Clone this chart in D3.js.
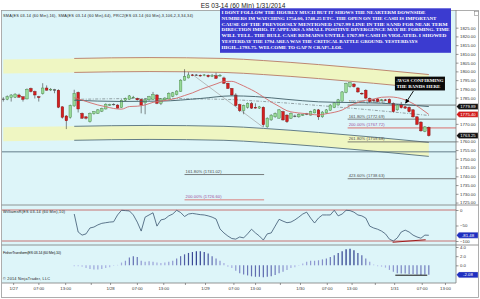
<!DOCTYPE html>
<html>
<head>
<meta charset="utf-8">
<script src="https://cdn.jsdelivr.net/npm/d3@7"></script>
<style>
  body { margin: 0; background: #fff; }
  svg text { font-family: "Liberation Sans", Arial, sans-serif; }
</style>
</head>
<body>
<div id="chart"></div>
<script>
// ---------------- data (60 min bars, ES 03-14) ----------------
const opens  = [1784.25,1784.0,1785.0,1785.25,1786.5,1785.5,1784.25,1790.25,1788.5,1785.5,1787.25,1790.5,1789.5,1789.5,1789.25,1779.75,1774.5,1773.75,1780.25,1788.0,
                1776.0,1774.0,1771.25,1775.75,1776.0,1777.25,1778.5,1780.75,1781.25,1780.75,1779.25,1783.5,1784.0,1785.0,1784.5,1784.0,1782.0,1783.75,1784.0,1786.5,
                1781.75,1783.75,1784.25,1785.75,1786.75,1788.5,1795.0,1796.25,1798.0,1798.0,1797.75,1797.75,1797.75,1797.25,1797.5,1797.5,1796.25,1793.25,1790.25,1786.5,
                1781.0,1777.5,1779.5,1781.5,1779.5,1779.0,1779.5,1768.25,1772.25,1774.0,1773.25,1777.0,1775.0,1773.25,1774.5,1774.0,1775.0,1775.75,1775.0,1776.25,
                1778.0,1774.0,1776.25,1777.75,1779.25,1780.75,1783.0,1788.0,1791.25,1792.75,1790.5,1787.5,1789.25,1784.5,1783.75,1784.25,1783.5,1783.75,1784.0,1781.75,
                1778.0,1781.0,1779.75,1779.5,1778.0,1774.0,1771.0,1765.75,1768.0];
const highs  = [1785.25,1786.25,1787.0,1787.5,1787.25,1785.75,1790.25,1790.75,1789.0,1786.0,1793.25,1792.0,1790.5,1790.0,1789.75,1780.0,1775.0,1781.0,1789.5,1788.5,
                1776.5,1774.5,1776.5,1777.25,1778.5,1779.25,1781.75,1781.5,1781.75,1781.25,1784.0,1785.0,1786.5,1786.0,1785.0,1784.5,1784.5,1786.0,1788.25,1787.0,
                1784.75,1785.25,1788.0,1788.25,1789.25,1795.5,1801.25,1799.5,1798.5,1798.5,1798.25,1798.5,1798.25,1798.5,1799.25,1798.5,1797.0,1793.5,1790.5,1787.5,
                1781.5,1781.0,1782.25,1782.5,1781.75,1780.25,1780.0,1773.75,1775.5,1776.5,1778.5,1777.5,1775.5,1776.5,1775.25,1776.0,1775.75,1776.25,1777.5,1778.5,
                1778.5,1777.25,1778.5,1781.25,1782.5,1784.25,1788.75,1793.5,1793.75,1793.25,1791.0,1788.0,1789.75,1785.0,1784.25,1784.75,1784.25,1784.25,1784.5,1782.25,
                1781.25,1782.5,1780.25,1780.0,1778.5,1774.5,1771.5,1768.75,1768.5];
const lows   = [1782.75,1783.5,1782.75,1784.75,1785.0,1782.75,1784.0,1788.0,1784.5,1782.75,1786.75,1789.0,1788.75,1787.5,1779.0,1773.0,1767.0,1773.0,1779.75,1776.5,
                1772.75,1772.5,1770.75,1775.25,1775.75,1776.75,1778.25,1780.25,1780.5,1778.75,1779.0,1783.0,1783.75,1784.5,1783.25,1776.0,1775.5,1783.25,1783.75,1781.25,
                1780.75,1783.25,1784.0,1785.25,1786.25,1788.25,1794.75,1796.0,1797.25,1797.5,1797.0,1797.25,1796.5,1796.75,1795.75,1797.0,1792.75,1790.0,1786.0,1780.0,
                1776.75,1775.5,1778.75,1778.5,1778.75,1778.5,1768.25,1767.75,1771.75,1773.5,1773.0,1771.75,1770.5,1772.75,1773.75,1773.5,1774.5,1775.0,1774.75,1776.0,
                1772.25,1773.5,1775.75,1777.5,1779.0,1780.5,1782.75,1787.5,1790.75,1790.75,1787.75,1786.5,1784.25,1782.25,1783.0,1782.25,1783.0,1783.0,1781.5,1776.5,
                1777.5,1778.75,1778.5,1776.5,1773.5,1769.25,1765.5,1765.25,1762.75];
const closes = [1784.25,1785.5,1786.5,1787.0,1785.25,1784.0,1789.75,1788.5,1786.5,1785.0,1790.5,1789.25,1789.75,1789.5,1779.5,1773.75,1771.75,1780.5,1787.5,1778.5,
                1773.25,1773.25,1776.0,1777.0,1778.0,1778.75,1781.25,1781.0,1781.25,1779.0,1783.5,1784.5,1786.0,1785.25,1783.75,1780.75,1784.0,1785.5,1786.75,1781.75,
                1784.25,1784.75,1787.5,1787.75,1788.75,1795.0,1797.0,1798.0,1797.75,1798.0,1797.5,1798.0,1797.0,1797.5,1796.0,1797.75,1793.25,1790.25,1786.5,1780.5,
                1777.5,1780.5,1781.75,1779.0,1779.0,1779.75,1769.5,1773.25,1775.0,1776.0,1778.0,1772.25,1771.25,1776.0,1774.5,1775.5,1775.25,1775.75,1777.0,1778.0,
                1774.0,1776.75,1778.0,1780.75,1782.0,1783.75,1788.25,1793.0,1793.5,1791.25,1788.25,1787.25,1784.75,1782.75,1783.5,1782.75,1783.75,1783.5,1782.0,1777.0,
                1780.75,1779.25,1779.0,1777.0,1774.0,1769.75,1766.0,1768.25,1763.25];

// SMA(16) and SMA(64): [bar, price]
const sma16 = [[18,1784.9],[20,1783.6],[22,1782.1],[24,1780.8],[26,1779.8],[28,1778.8],[30,1778.4],[32,1779.9],[34,1780.1],[36,1780.8],
               [38,1782.3],[40,1783.0],[42,1783.7],[44,1784.7],[46,1786.2],[48,1787.7],[50,1789.6],[52,1791.2],[54,1792.8],[56,1794.2],
               [58,1794.3],[60,1792.7],[62,1790.6],[64,1788.3],[66,1785.4],[68,1782.5],[70,1780.0],[72,1777.5],[74,1776.5],[76,1776.0],
               [78,1775.5],[80,1775.1],[82,1775.8],[84,1776.6],[86,1777.9],[88,1780.4],[90,1782.2],[92,1783.5],[94,1784.2],[96,1785.2],
               [98,1785.4],[100,1785.0],[102,1783.7],[104,1781.6],[106,1778.7],[108,1775.4]];
const sma64 = [[18,1783.5],[30,1782.8],[40,1783.0],[50,1784.5],[58,1786.0],[64,1785.6],[72,1784.0],[80,1782.6],[88,1782.2],
               [96,1781.8],[102,1781.0],[108,1779.89]];

// regression channel (PRC2) midline and band offsets, in points
const chIdx   = [0, 18, 37, 56, 66, 80, 94, 108];
const chMid   = [1783.4, 1784.0, 1784.5, 1784.0, 1782.8, 1780.5, 1777.8, 1774.8];
const chInner = 15.4, chOuter = 23.4;
const chLineStart = 18;

// Williams %R(10) and Fisher Transform(10), from bar 18 on
const indStart = 18;
const willR = [-13,-71,-81,-77,-58,-55,-48,-43,-41,-39,-38,-16,-1,-2,-3,-16,-39,-68,-23,-16,-9,-52,-32,-29,-19,-13,-1,-8,-21,-13,
               -11,-13,-15,-16,-19,-23,-29,-61,-74,-84,-92,-94,-87,-90,-77,-62,-74,-84,-97,-77,-74,-52,-30,-36,-41,-39,-32,-23,-13,-7,
               -26,-42,-26,-16,-16,-16,-1,-19,-13,-1,-2,-7,-16,-19,-26,-52,-58,-62,-68,-77,-94,-100,-90,-71,-65,-71,-81,-87,-91,-81,-81.48];
const fisher = [-0.2,-0.2,-0.3,-0.6,-0.8,-0.9,-0.9,-0.8,-0.6,-0.4,-0.1,0.1,0.6,1.0,1.7,2.0,1.8,1.0,0.8,0.9,0.8,0.6,0.5,0.6,0.8,1.0,1.5,2.0,2.4,2.7,
                2.9,3.1,3.1,2.9,2.6,2.0,1.5,1.0,0.5,-0.3,-0.6,-1.2,-1.7,-2.0,-2.2,-2.4,-2.5,-2.5,-2.6,-2.5,-2.4,-2.1,-1.7,-1.4,-1.0,-0.6,-0.4,-0.1,0.4,0.8,
                1.0,1.0,1.1,1.3,1.5,1.8,2.2,2.7,3.1,3.5,3.6,3.3,2.7,2.2,1.5,0.8,0.2,-0.2,-0.3,-0.5,-1.0,-1.4,-1.7,-1.8,-1.8,-1.9,-1.9,-2.0,-2.1,-2.0,-2.08];

// fibonacci extension levels
const fibRightPct   = ["100.00%", "161.80%", "200.00%", "261.80%", "423.60%"];
const fibRightPrice = [1780.73, 1772.69, 1767.72, 1759.68, 1738.63];
const fibLeftPct    = ["161.80%", "200.00%"];
const fibLeftPrice  = [1741.02, 1726.60];
const fibRightFrom = 87.4, fibLeftFrom = 46, fibLeftTo = 66.2;
const hLine = 1754.00;
const trendLine = [[48, 1798.25], [66, 1768.0]];

// time axis (bar positions)
const axisIdx  = [2.5, 8.9, 15.7, 22.2, 27.1, 33.9, 40.6, 46.1, 51.2, 58.4, 63.9, 70.2, 75.3, 82.1, 88.4, 94.3, 99.2, 106.2, 112.1];
const axisText = ["1/27","07:00","13:00","","1/28","07:00","13:00","","1/29","07:00","13:00","","1/30","07:00","13:00","","1/31","07:00","13:00"];
// labels hidden behind the value markers are left out
const priceTicks = d3.range(1725, 1826, 5).filter(v => v !== 1765 && v !== 1775 && v !== 1780);
const wrTicks = [0, -50, -100];
const fishTicks = [4, 2, 0];

const noteLines = [
  "I DONT FOLLOW THE HOURLY MUCH BUT IT SHOWS THE NEARTERM DOWNSIDE",
  "NUMBERS IM WATCHING 1754.00, 1748.25 ETC. THE OPEN ON THE CASH IS IMPORTANT",
  "CAUSE OF THE PREVIOUSLY MENTIONED 1767.99 LINE IN THE SAND FOR NEAR TERM",
  "DIRECTION IMHO. IT APPEARS A SMALL POSITIVE DIVERGENCE MAY BE FORMING. TIME",
  "WILL TELL. THE BULL CASE REMAINS UNTILL 1767.99  CASH IS VIOLATED.  I SHOWED",
  "YESTERDAY THE 1794 AREA WAS THE CRITICAL BATTLE GROUND. YESTERDAYS",
  "HIGH...1793.75. WELCOME TO  GAP N CRAP!..LOL"
];

// ---------------- layout ----------------
const W = 480, H = 299;
const plotL = 2, plotR = 456, plotTop = 10, priceBot = 205, wrBot = 245, fishBot = 283;

const svg = d3.select("#chart").append("svg")
    .attr("width", W).attr("height", H);

const xS = d3.scaleLinear().domain([-0.33, 114.9]).range([plotL, plotR]);
const yP = d3.scaleLinear().domain([1723.6, 1835.1]).range([priceBot, plotTop]);
const yW = d3.scaleLinear().domain([-100, 0]).range([241, 210]);
const yF = d3.scaleLinear().domain([-2, 4]).range([274.5, 247]);

svg.append("rect").attr("width", W).attr("height", H).attr("fill", "#fff");
svg.append("rect").attr("x", plotL).attr("y", plotTop).attr("width", plotR - plotL).attr("height", fishBot - plotTop)
    .attr("fill", "#ddf5f9");

const defs = svg.append("defs");
defs.append("clipPath").attr("id", "pclip")
    .append("rect").attr("x", plotL).attr("y", plotTop).attr("width", plotR - plotL).attr("height", priceBot - plotTop);

const plot = svg.append("g").attr("clip-path", "url(#pclip)");

// channel bands
const ch = chIdx.map((i, k) => ({ i: i, m: chMid[k] }));
const band = (a, b) => d3.area().x(d => xS(d.i)).y0(d => yP(d.m + a)).y1(d => yP(d.m + b)).curve(d3.curveMonotoneX);
plot.append("path").datum(ch).attr("d", band(chInner, chOuter)).attr("fill", "#eff6c2");
plot.append("path").datum(ch).attr("d", band(-chInner, -chOuter)).attr("fill", "#eff6c2");

const chLine = off => d3.line().defined(d => d.i >= chLineStart)
    .x(d => xS(d.i)).y(d => yP(d.m + off)).curve(d3.curveMonotoneX);
[[chOuter, "#b87a66"], [chInner, "#b87a66"], [-chInner, "#55707e"], [-chOuter, "#55707e"]].forEach(([o, c]) => {
    plot.append("path").datum(ch).attr("d", chLine(o)).attr("fill", "none").attr("stroke", c).attr("stroke-width", 0.9);
});
plot.append("path").datum(ch).attr("d", chLine(0)).attr("fill", "none")
    .attr("stroke", "#7d8a8e").attr("stroke-width", 0.8).attr("stroke-dasharray", "3,1.5,1,1.5");

// horizontal line 1754
plot.append("line").attr("x1", plotL).attr("x2", plotR).attr("y1", yP(hLine)).attr("y2", yP(hLine))
    .attr("stroke", "#57707e").attr("stroke-width", 0.9);

// trend line from the high
plot.append("line")
    .attr("x1", xS(trendLine[0][0])).attr("y1", yP(trendLine[0][1]))
    .attr("x2", xS(trendLine[1][0])).attr("y2", yP(trendLine[1][1]))
    .attr("stroke", "#a4a4a4").attr("stroke-width", 0.7);

// fib levels
function fibLevel(pct, price, from, to) {
    const pink = pct === "200.00%";
    plot.append("line").attr("x1", xS(from)).attr("x2", to).attr("y1", yP(price)).attr("y2", yP(price))
        .attr("stroke", pink ? "#dba8a8" : "#5e5e5e").attr("stroke-width", pink ? 1.6 : 0.8);
    plot.append("text").attr("x", xS(from) + 1).attr("y", yP(price) - 1.6)
        .attr("font-size", 4.1).attr("fill", pink ? "#9a4a9a" : "#4a4a4a")
        .attr("textLength", 36).text(`${pct} (${price.toFixed(2)})`);
}
fibRightPct.forEach((p, k) => fibLevel(p, fibRightPrice[k], fibRightFrom, plotR));
fibLeftPct.forEach((p, k) => fibLevel(p, fibLeftPrice[k], fibLeftFrom, xS(fibLeftTo)));

// candles
const bars = closes.map((c, i) => ({ i: i, o: opens[i], h: highs[i], l: lows[i], c: c }));
const gBars = plot.append("g");
gBars.selectAll("line").data(bars).join("line")
    .attr("x1", d => xS(d.i)).attr("x2", d => xS(d.i))
    .attr("y1", d => yP(d.h)).attr("y2", d => yP(d.l))
    .attr("stroke", "#3a3a3a").attr("stroke-width", 0.6);
gBars.selectAll("rect").data(bars).join("rect")
    .attr("x", d => xS(d.i) - 1.3).attr("width", 2.6)
    .attr("y", d => yP(Math.max(d.o, d.c)))
    .attr("height", d => Math.max(0.7, Math.abs(yP(d.o) - yP(d.c))))
    .attr("fill", d => d.c > d.o ? "#97da97" : d.c < d.o ? "#d41e1e" : "#555")
    .attr("stroke", d => d.c > d.o ? "#3f7f3f" : d.c < d.o ? "#7a0e0e" : "#555")
    .attr("stroke-width", 0.4);

// moving averages
const smaLine = d3.line().x(d => xS(d[0])).y(d => yP(d[1])).curve(d3.curveMonotoneX);
plot.append("path").datum(sma64).attr("d", smaLine).attr("fill", "none").attr("stroke", "#3f5e66").attr("stroke-width", 0.9);
plot.append("path").datum(sma16).attr("d", smaLine).attr("fill", "none").attr("stroke", "#d26a6a").attr("stroke-width", 0.9);

// ---------------- Williams %R panel ----------------
const wr = willR.map((v, k) => [indStart + k, v]);
[0, -100].forEach(v => svg.append("line").attr("x1", plotL).attr("x2", plotR).attr("y1", yW(v)).attr("y2", yW(v))
    .attr("stroke", "#c45050").attr("stroke-width", 0.8));
svg.append("path").datum(wr)
    .attr("d", d3.line().x(d => xS(d[0])).y(d => yW(d[1])))
    .attr("fill", "none").attr("stroke", "#3b5670").attr("stroke-width", 0.8);
svg.append("line").attr("x1", xS(98.8)).attr("y1", yW(-104)).attr("x2", xS(107.2)).attr("y2", yW(-96))
    .attr("stroke", "#a01c1c").attr("stroke-width", 1.1);

// ---------------- Fisher panel ----------------
const fColor = v => d3.interpolateRgb("#bcc2f0", "#1a2b80")(Math.min(1, Math.abs(v) / (v < 0 ? 4.4 : 3.6)));
svg.append("g").selectAll("line").data(fisher.map((v, k) => [indStart + k, v])).join("line")
    .attr("x1", d => xS(d[0])).attr("x2", d => xS(d[0]))
    .attr("y1", yF(0)).attr("y2", d => yF(d[1]))
    .attr("stroke", d => fColor(d[1])).attr("stroke-width", 1.2);
svg.append("line").attr("x1", xS(99.5)).attr("x2", xS(107.6)).attr("y1", yF(-2.15)).attr("y2", yF(-2.15))
    .attr("stroke", "#111").attr("stroke-width", 1);

// ---------------- frames & separators ----------------
svg.append("rect").attr("x", 1.5).attr("y", plotTop + 0.5).attr("width", 477).attr("height", 287)
    .attr("fill", "none").attr("stroke", "#9a9a9a").attr("stroke-width", 0.8);
[priceBot, wrBot].forEach(y => svg.append("line").attr("x1", 1.5).attr("x2", 478.5).attr("y1", y).attr("y2", y)
    .attr("stroke", "#7c7c7c").attr("stroke-width", 0.8));
svg.append("line").attr("x1", plotR).attr("x2", plotR).attr("y1", plotTop).attr("y2", fishBot)
    .attr("stroke", "#7c7c7c").attr("stroke-width", 0.8);
svg.append("line").attr("x1", plotL).attr("x2", plotR).attr("y1", fishBot).attr("y2", fishBot)
    .attr("stroke", "#7c7c7c").attr("stroke-width", 0.8);

// ---------------- axes ----------------
function styleAxis(g) {
    g.select(".domain").remove();
    g.selectAll("line").attr("stroke", "#555").attr("stroke-width", 0.6);
    g.selectAll("text").attr("font-size", 4.3).attr("fill", "#333")
        .style("font-family", "'Liberation Sans', Arial, sans-serif");
}
svg.append("g").attr("transform", `translate(${plotR},0)`)
    .call(d3.axisRight(yP).tickValues(priceTicks).tickFormat(d3.format(".2f")).tickSize(2.5).tickPadding(1.5))
    .call(styleAxis);
svg.append("g").attr("transform", `translate(${plotR},0)`)
    .call(d3.axisRight(yW).tickValues(wrTicks).tickSize(2.5).tickPadding(1.5))
    .call(styleAxis);
svg.append("g").attr("transform", `translate(${plotR},0)`)
    .call(d3.axisRight(yF).tickValues(fishTicks).tickSize(2.5).tickPadding(1.5))
    .call(styleAxis);
svg.append("g").attr("transform", `translate(0,${fishBot})`)
    .call(d3.axisBottom(xS).tickValues(axisIdx).tickFormat((d, k) => axisText[k]).tickSize(2).tickPadding(1.5))
    .call(styleAxis);

// value markers on the right axis
function marker(y, label, fill) {
    svg.append("path")
        .attr("d", `M${plotR + 0.5},${y} L${plotR + 3},${y - 2.9} H478 V${y + 2.9} H${plotR + 3} Z`)
        .attr("fill", fill).attr("stroke", "#ddd").attr("stroke-width", 0.3);
    svg.append("text").attr("x", 468).attr("y", y + 1.5).attr("text-anchor", "middle")
        .attr("font-size", 4.3).attr("fill", "#fff").text(label);
}
marker(yP(sma64[sma64.length - 1][1]), "1779.89", "#111");
marker(yP(sma16[sma16.length - 1][1]), "1775.40", "#d21c1c");
marker(yP(closes[closes.length - 1]), "1763.25", "#111");
marker(yW(willR[willR.length - 1]), "-81.48", "#1f2fc0");
marker(yF(fisher[fisher.length - 1]), "-2.08", "#1f2fc0");

// ---------------- texts ----------------
svg.append("text").attr("x", 243).attr("y", 7.6).attr("text-anchor", "middle")
    .attr("font-size", 6.6).attr("fill", "#222").text("ES 03-14 (60 Min)  1/31/2014");
svg.append("text").attr("x", 3).attr("y", 16.5).attr("font-size", 3.8).attr("fill", "#222")
    .attr("textLength", 190)
    .text("SMA(ES 03-14 (60 Min),16), SMA(ES 03-14 (60 Min),64), PRC2(ES 03-14 (60 Min),3,106,2,3,34,34)");
svg.append("text").attr("x", 3).attr("y", 213).attr("font-size", 3.8).attr("fill", "#222")
    .attr("textLength", 62).text("WilliamsR(ES 03-14 (60 Min),10)");
svg.append("text").attr("x", 3).attr("y", 254).attr("font-size", 3.8).attr("fill", "#222")
    .attr("textLength", 58).text("FisherTransform(ES 03-14 (60 Min),10)");
svg.append("text").attr("x", 3).attr("y", 279.5).attr("font-size", 3.8).attr("fill", "#222")
    .attr("textLength", 47).text("© 2014 NinjaTrader, LLC");

// top-right icon
svg.append("rect").attr("x", 474.5).attr("y", 11.5).attr("width", 4).attr("height", 4)
    .attr("fill", "#fff").attr("stroke", "#777").attr("stroke-width", 0.5);

// blue comment box
const note = svg.append("g");
note.append("rect").attr("x", 220).attr("y", 8.3).attr("width", 231).attr("height", 44.5).attr("fill", "#3b3bd0");
const noteWidths = [204, 215, 226, 228, 225, 196, 121];
note.selectAll("text").data(noteLines).join("text")
    .attr("x", 221.5).attr("y", (d, k) => 14 + k * 5.8)
    .attr("textLength", (d, k) => noteWidths[k]).attr("lengthAdjust", "spacingAndGlyphs")
    .attr("font-size", 5).attr("font-weight", "bold").attr("fill", "#fff")
    .style("font-family", "'Liberation Serif', 'Times New Roman', serif")
    .text(d => d);

// "AVGS CONFIRMING THE BANDS HERE" callout
const cx0 = xS(99.4), cx1 = xS(112.1), cy0 = yP(1797.0), cy1 = yP(1789.1);
svg.append("rect").attr("x", cx0).attr("y", cy0).attr("width", cx1 - cx0).attr("height", cy1 - cy0).attr("fill", "#0a0a0a");
["AVGS CONFIRMING", "THE BANDS HERE"].forEach((t, k) => {
    svg.append("text").attr("x", cx0 + 1.5).attr("y", cy0 + 5.2 + k * 6)
        .attr("font-size", 4.8).attr("font-weight", "bold").attr("fill", "#fff")
        .attr("textLength", k ? 44 : 47).attr("lengthAdjust", "spacingAndGlyphs")
        .style("font-family", "'Liberation Serif', 'Times New Roman', serif").text(t);
});
defs.append("marker").attr("id", "ah").attr("viewBox", "0 0 10 10")
    .attr("refX", 9).attr("refY", 5).attr("markerWidth", 5).attr("markerHeight", 5).attr("orient", "auto")
    .append("path").attr("d", "M0,0 L10,5 L0,10 z").attr("fill", "#000");
svg.append("line").attr("x1", xS(104.1)).attr("y1", yP(1788.8)).attr("x2", xS(102.1)).attr("y2", yP(1781.8))
    .attr("stroke", "#000").attr("stroke-width", 0.9).attr("marker-end", "url(#ah)");
</script>
</body>
</html>
